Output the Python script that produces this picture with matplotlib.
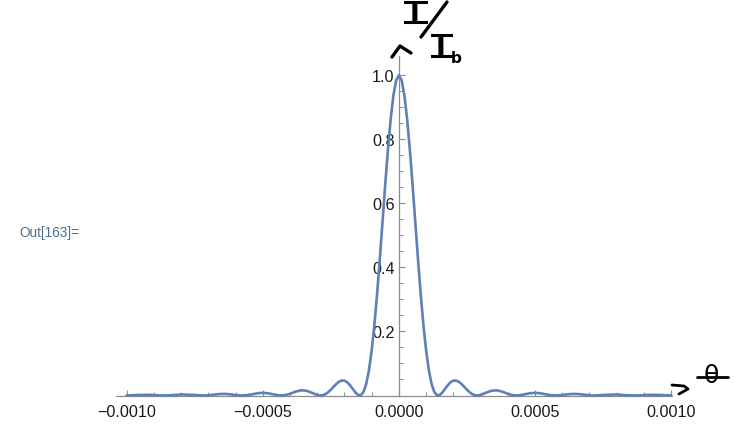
import numpy as np
import matplotlib
matplotlib.use("Agg")
import matplotlib.pyplot as plt
from matplotlib.lines import Line2D
from matplotlib.ticker import FixedLocator, FuncFormatter

# ---- data (curve is symmetric about theta = 0) ----
# theta in units of 1e-5 for the positive half
theta_half_e5 = [0, 1, 2, 3, 4, 5, 6, 7, 8, 9, 10, 11, 12, 13, 14, 15, 16, 17, 18, 19,
                 20, 21, 22, 23, 24, 25, 26, 27, 28, 29, 30,
                 32, 34, 36, 38, 40, 42, 44, 46, 48, 50, 52, 54, 56, 58, 60,
                 62, 64, 66, 68, 70, 72, 76, 80, 84, 88, 92, 96, 100]
intensity_half = [1.0, 0.9842, 0.9381, 0.8651, 0.7706, 0.6612, 0.5445, 0.4280, 0.3184, 0.2214,
                  0.1410, 0.0793, 0.0365, 0.0112, 0.0008, 0.0016, 0.0096, 0.0210, 0.0324, 0.0414,
                  0.0464, 0.0468, 0.0431, 0.0361, 0.0274, 0.0183, 0.0102, 0.0042, 0.0008, 0.0001,
                  0.0016,
                  0.0085, 0.0149, 0.0162, 0.0120, 0.0054, 0.0008, 0.0003, 0.0033, 0.0068, 0.0083,
                  0.0070, 0.0036, 0.0008, 0.0001, 0.0015,
                  0.0037, 0.0050, 0.0045, 0.0027, 0.0008, 0.0000, 0.0021, 0.0032, 0.0007, 0.0003,
                  0.0022, 0.0017, 0.0001]

x_major = [-0.0010, -0.0005, 0.0, 0.0005, 0.0010]
y_major = [0.2, 0.4, 0.6, 0.8, 1.0]
out_label = "Out[163]="

theta_pos = np.array(theta_half_e5) * 1e-5
theta = np.concatenate([-theta_pos[::-1], theta_pos[1:]])
intensity = np.concatenate([np.array(intensity_half)[::-1], np.array(intensity_half)[1:]])

# ---- figure ----
W, H = 738, 427
fig = plt.figure(figsize=(W / 100, H / 100), dpi=100)
plt.rcParams['font.family'] = ['Liberation Sans', 'DejaVu Sans']

def fx(x):
    return x / W

def fy(y):
    return 1 - y / H

ax_left, ax_right, ax_top, ax_bot = 116, 672, 57, 396.5
ax = fig.add_axes([fx(ax_left), fy(ax_bot), (ax_right - ax_left) / W, (ax_bot - ax_top) / H])
ax.set_xlim(-0.00104, 0.001004)
ax.set_ylim(0, 1.06)

line_color = '#5E81B5'
ax.plot(theta, intensity, color=line_color, lw=1.9, clip_on=False, zorder=3,
        solid_joinstyle='round')

axis_color = '#8c8c8c'
for s in ['top', 'right']:
    ax.spines[s].set_visible(False)
ax.spines['left'].set_position(('data', 0))
ax.spines['bottom'].set_position(('data', 0))
for s in ['left', 'bottom']:
    ax.spines[s].set_color(axis_color)
    ax.spines[s].set_linewidth(0.9)

ax.xaxis.set_major_locator(FixedLocator(x_major))
ax.xaxis.set_minor_locator(FixedLocator([k * 1e-4 for k in range(-10, 11) if k % 5 != 0]))
ax.yaxis.set_major_locator(FixedLocator(y_major))
ax.yaxis.set_minor_locator(FixedLocator([k * 0.05 for k in range(1, 21) if k % 4 != 0]))

def xfmt(v, pos):
    s = f"{abs(v):.4f}"
    return ("\u2212" + s) if v < -1e-12 else s

ax.xaxis.set_major_formatter(FuncFormatter(xfmt))
ax.yaxis.set_major_formatter(FuncFormatter(lambda v, p: f"{v:.1f}"))

ax.tick_params(which='major', direction='in', length=4.5, width=0.8, color=axis_color,
               labelsize=11.6, labelcolor='#1a1a1a')
ax.tick_params(which='minor', direction='in', length=2.6, width=0.7, color=axis_color)
ax.tick_params(axis='x', which='major', pad=6)
ax.tick_params(axis='y', which='major', pad=3)

# "Out[...]=" label
fig.text(fx(19), fy(233), out_label, color='#4F7090', fontsize=9.8, ha='left', va='center')

# hand-written annotations
hand = dict(color='black', family='DejaVu Sans', ha='center', va='baseline')
fig.text(fx(415), fy(23), "I", fontsize=19, fontweight='bold', **hand)
fig.text(fx(441), fy(57), "I", fontsize=19, fontweight='bold', **hand)
fig.add_artist(Line2D([fx(405), fx(426)], [fy(3), fy(3)], color='black', lw=2.2))
fig.add_artist(Line2D([fx(405), fx(426)], [fy(23), fy(23)], color='black', lw=2.2))
fig.add_artist(Line2D([fx(432), fx(451)], [fy(36), fy(36)], color='black', lw=2.2))
fig.add_artist(Line2D([fx(432), fx(452)], [fy(57), fy(57)], color='black', lw=2.2))
fig.text(fx(456), fy(63), "b", fontsize=11, color='black', family='DejaVu Sans',
         fontweight='bold', ha='center', va='baseline')
fig.add_artist(Line2D([fx(421), fx(447)], [fy(38), fy(3)], color='black', lw=2.4,
                      solid_capstyle='round'))
fig.add_artist(Line2D([fx(392), fx(400), fx(411)], [fy(58), fy(47), fy(54)], color='black',
                      lw=2.4, solid_capstyle='round', solid_joinstyle='round'))
fig.text(fx(711), fy(376), "\u03b8", fontsize=18, color='black', family='DejaVu Sans',
         ha='center', va='center')
fig.add_artist(Line2D([fx(697), fx(728)], [fy(378), fy(378)], color='black', lw=2.0,
                      solid_capstyle='round'))
fig.add_artist(Line2D([fx(672), fx(684), fx(688), fx(679)], [fy(386), fy(387), fy(390), fy(395)],
                      color='black', lw=2.0, solid_capstyle='round', solid_joinstyle='round'))

fig.savefig("out.png", dpi=100)
